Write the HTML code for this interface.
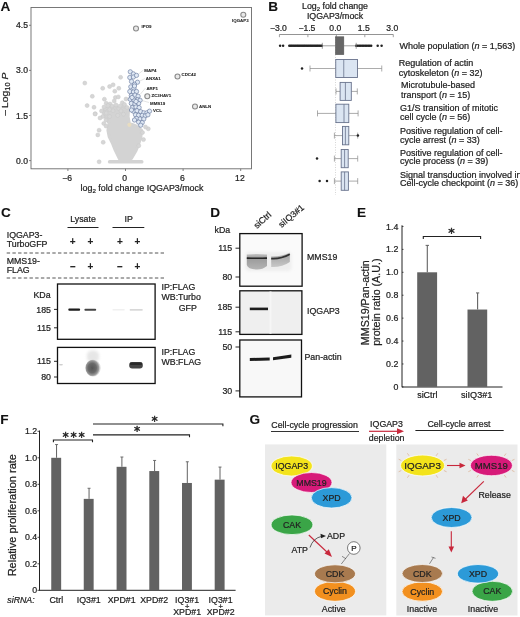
<!DOCTYPE html>
<html><head><meta charset="utf-8"><title>Figure</title>
<style>html,body{margin:0;padding:0;background:#fff;} svg{display:block;} text{font-family:"Liberation Sans", Arial, Helvetica, sans-serif;stroke:#222;stroke-width:0.22px;} text[font-weight=bold]{stroke-width:0.1px;}</style>
</head><body>
<svg width="520" height="617" viewBox="0 0 520 617">
<rect width="520" height="617" fill="#fff"/>
<text x="0.6" y="10.5" font-size="13.6" font-weight="bold" fill="#111" >A</text>
<polygon points="103,112 105.2,116.7 109.2,123.5 107.9,130.2 109.2,136.9 112.6,143.6 115.3,150.4 119.3,158.5 131.4,158.5 136.1,150.4 138.8,143.6 140.9,136.9 141.5,130.2 136,126 129.4,123.5 128.1,116.7 128.5,110 125,107 119,107.5 112,107 106,108.5" fill="#d3d3d3" stroke="#d3d3d3" stroke-width="3" stroke-linejoin="round"/>
<rect x="107.9" y="160.1" width="35.6" height="3.5" rx="1.7" fill="#d3d3d3"/>
<circle cx="84.8" cy="83.1" r="2.0" fill="#d6d6d6" stroke="#c9c9c9" stroke-width="0.5"/>
<circle cx="102.7" cy="88.3" r="2.0" fill="#d6d6d6" stroke="#c9c9c9" stroke-width="0.5"/>
<circle cx="109.6" cy="86.5" r="2.0" fill="#d6d6d6" stroke="#c9c9c9" stroke-width="0.5"/>
<circle cx="113.1" cy="84.8" r="2.0" fill="#d6d6d6" stroke="#c9c9c9" stroke-width="0.5"/>
<circle cx="120.6" cy="77.3" r="2.0" fill="#d6d6d6" stroke="#c9c9c9" stroke-width="0.5"/>
<circle cx="118.8" cy="88.3" r="2.0" fill="#d6d6d6" stroke="#c9c9c9" stroke-width="0.5"/>
<circle cx="114.8" cy="91.2" r="2.0" fill="#d6d6d6" stroke="#c9c9c9" stroke-width="0.5"/>
<circle cx="92.3" cy="96.3" r="2.0" fill="#d6d6d6" stroke="#c9c9c9" stroke-width="0.5"/>
<circle cx="104.4" cy="99.2" r="2.0" fill="#d6d6d6" stroke="#c9c9c9" stroke-width="0.5"/>
<circle cx="115.4" cy="97.5" r="2.0" fill="#d6d6d6" stroke="#c9c9c9" stroke-width="0.5"/>
<circle cx="118.3" cy="96.9" r="2.0" fill="#d6d6d6" stroke="#c9c9c9" stroke-width="0.5"/>
<circle cx="114.2" cy="101.0" r="2.0" fill="#d6d6d6" stroke="#c9c9c9" stroke-width="0.5"/>
<circle cx="122.3" cy="102.7" r="2.0" fill="#d6d6d6" stroke="#c9c9c9" stroke-width="0.5"/>
<circle cx="87.1" cy="105.6" r="2.0" fill="#d6d6d6" stroke="#c9c9c9" stroke-width="0.5"/>
<circle cx="94.0" cy="107.3" r="2.0" fill="#d6d6d6" stroke="#c9c9c9" stroke-width="0.5"/>
<circle cx="106.2" cy="103.3" r="2.0" fill="#d6d6d6" stroke="#c9c9c9" stroke-width="0.5"/>
<circle cx="105.0" cy="108.5" r="2.0" fill="#d6d6d6" stroke="#c9c9c9" stroke-width="0.5"/>
<circle cx="109.6" cy="109.6" r="2.0" fill="#d6d6d6" stroke="#c9c9c9" stroke-width="0.5"/>
<circle cx="95.2" cy="113.7" r="2.0" fill="#d6d6d6" stroke="#c9c9c9" stroke-width="0.5"/>
<circle cx="106.2" cy="113.1" r="2.0" fill="#d6d6d6" stroke="#c9c9c9" stroke-width="0.5"/>
<circle cx="113.1" cy="110.8" r="2.0" fill="#d6d6d6" stroke="#c9c9c9" stroke-width="0.5"/>
<circle cx="118.8" cy="108.5" r="2.0" fill="#d6d6d6" stroke="#c9c9c9" stroke-width="0.5"/>
<circle cx="102.7" cy="116.5" r="2.0" fill="#d6d6d6" stroke="#c9c9c9" stroke-width="0.5"/>
<circle cx="109.6" cy="116.5" r="2.0" fill="#d6d6d6" stroke="#c9c9c9" stroke-width="0.5"/>
<circle cx="117.7" cy="115.4" r="2.0" fill="#d6d6d6" stroke="#c9c9c9" stroke-width="0.5"/>
<circle cx="123.5" cy="114.2" r="2.0" fill="#d6d6d6" stroke="#c9c9c9" stroke-width="0.5"/>
<circle cx="95.1" cy="114.0" r="2.0" fill="#d6d6d6" stroke="#c9c9c9" stroke-width="0.5"/>
<circle cx="103.8" cy="123.5" r="2.0" fill="#d6d6d6" stroke="#c9c9c9" stroke-width="0.5"/>
<circle cx="99.1" cy="130.2" r="2.0" fill="#d6d6d6" stroke="#c9c9c9" stroke-width="0.5"/>
<circle cx="97.8" cy="134.9" r="2.0" fill="#d6d6d6" stroke="#c9c9c9" stroke-width="0.5"/>
<circle cx="103.2" cy="142.3" r="2.0" fill="#d6d6d6" stroke="#c9c9c9" stroke-width="0.5"/>
<circle cx="99.1" cy="161.8" r="2.0" fill="#d6d6d6" stroke="#c9c9c9" stroke-width="0.5"/>
<circle cx="148.3" cy="128.8" r="2.0" fill="#d6d6d6" stroke="#c9c9c9" stroke-width="0.5"/>
<circle cx="143.5" cy="139.6" r="2.0" fill="#d6d6d6" stroke="#c9c9c9" stroke-width="0.5"/>
<circle cx="138.8" cy="145.7" r="2.0" fill="#d6d6d6" stroke="#c9c9c9" stroke-width="0.5"/>
<circle cx="124.0" cy="106.0" r="2.0" fill="#d6d6d6" stroke="#c9c9c9" stroke-width="0.5"/>
<circle cx="110.0" cy="104.0" r="2.0" fill="#d6d6d6" stroke="#c9c9c9" stroke-width="0.5"/>
<circle cx="100.0" cy="118.0" r="2.0" fill="#d6d6d6" stroke="#c9c9c9" stroke-width="0.5"/>
<circle cx="106.0" cy="120.0" r="2.0" fill="#d6d6d6" stroke="#c9c9c9" stroke-width="0.5"/>
<circle cx="112.0" cy="106.0" r="2.0" fill="#d6d6d6" stroke="#c9c9c9" stroke-width="0.5"/>
<circle cx="121.0" cy="111.0" r="2.0" fill="#d6d6d6" stroke="#c9c9c9" stroke-width="0.5"/>
<circle cx="126.0" cy="99.0" r="2.0" fill="#d6d6d6" stroke="#c9c9c9" stroke-width="0.5"/>
<circle cx="145.5" cy="127.0" r="2.0" fill="#d6d6d6" stroke="#c9c9c9" stroke-width="0.5"/>
<circle cx="104.0" cy="107.0" r="2.0" fill="#d6d6d6" stroke="#c9c9c9" stroke-width="0.5"/>
<circle cx="108.0" cy="105.5" r="2.0" fill="#d6d6d6" stroke="#c9c9c9" stroke-width="0.5"/>
<circle cx="116.0" cy="105.0" r="2.0" fill="#d6d6d6" stroke="#c9c9c9" stroke-width="0.5"/>
<circle cx="120.0" cy="106.0" r="2.0" fill="#d6d6d6" stroke="#c9c9c9" stroke-width="0.5"/>
<circle cx="124.5" cy="104.5" r="2.0" fill="#d6d6d6" stroke="#c9c9c9" stroke-width="0.5"/>
<circle cx="127.0" cy="107.5" r="2.0" fill="#d6d6d6" stroke="#c9c9c9" stroke-width="0.5"/>
<circle cx="101.5" cy="111.0" r="2.0" fill="#d6d6d6" stroke="#c9c9c9" stroke-width="0.5"/>
<circle cx="106.0" cy="126.0" r="2.0" fill="#d6d6d6" stroke="#c9c9c9" stroke-width="0.5"/>
<circle cx="142.5" cy="132.5" r="2.0" fill="#d6d6d6" stroke="#c9c9c9" stroke-width="0.5"/>
<circle cx="129.4" cy="124.8" r="2.1" fill="#e8dcc0"/>
<circle cx="130.3" cy="71.8" r="2.15" fill="#dfe8f4" stroke="#5f7298" stroke-width="0.6"/>
<circle cx="133.4" cy="73.9" r="2.15" fill="#dfe8f4" stroke="#5f7298" stroke-width="0.6"/>
<circle cx="129.8" cy="77.5" r="2.15" fill="#dfe8f4" stroke="#5f7298" stroke-width="0.6"/>
<circle cx="133.4" cy="77.0" r="2.15" fill="#dfe8f4" stroke="#5f7298" stroke-width="0.6"/>
<circle cx="136.5" cy="75.4" r="2.15" fill="#dfe8f4" stroke="#5f7298" stroke-width="0.6"/>
<circle cx="137.5" cy="82.2" r="2.15" fill="#dfe8f4" stroke="#5f7298" stroke-width="0.6"/>
<circle cx="134.4" cy="84.2" r="2.15" fill="#dfe8f4" stroke="#5f7298" stroke-width="0.6"/>
<circle cx="130.8" cy="86.8" r="2.15" fill="#dfe8f4" stroke="#5f7298" stroke-width="0.6"/>
<circle cx="133.9" cy="88.4" r="2.15" fill="#dfe8f4" stroke="#5f7298" stroke-width="0.6"/>
<circle cx="129.8" cy="91.5" r="2.15" fill="#dfe8f4" stroke="#5f7298" stroke-width="0.6"/>
<circle cx="133.4" cy="92.0" r="2.15" fill="#dfe8f4" stroke="#5f7298" stroke-width="0.6"/>
<circle cx="136.5" cy="91.5" r="2.15" fill="#dfe8f4" stroke="#5f7298" stroke-width="0.6"/>
<circle cx="131.3" cy="95.6" r="2.15" fill="#dfe8f4" stroke="#5f7298" stroke-width="0.6"/>
<circle cx="135.0" cy="95.1" r="2.15" fill="#dfe8f4" stroke="#5f7298" stroke-width="0.6"/>
<circle cx="138.1" cy="96.2" r="2.15" fill="#dfe8f4" stroke="#5f7298" stroke-width="0.6"/>
<circle cx="130.3" cy="99.3" r="2.15" fill="#dfe8f4" stroke="#5f7298" stroke-width="0.6"/>
<circle cx="133.9" cy="99.8" r="2.15" fill="#dfe8f4" stroke="#5f7298" stroke-width="0.6"/>
<circle cx="137.5" cy="99.8" r="2.15" fill="#dfe8f4" stroke="#5f7298" stroke-width="0.6"/>
<circle cx="140.1" cy="100.3" r="2.15" fill="#dfe8f4" stroke="#5f7298" stroke-width="0.6"/>
<circle cx="131.3" cy="103.4" r="2.15" fill="#dfe8f4" stroke="#5f7298" stroke-width="0.6"/>
<circle cx="135.0" cy="103.9" r="2.15" fill="#dfe8f4" stroke="#5f7298" stroke-width="0.6"/>
<circle cx="138.6" cy="103.4" r="2.15" fill="#dfe8f4" stroke="#5f7298" stroke-width="0.6"/>
<circle cx="132.4" cy="107.6" r="2.15" fill="#dfe8f4" stroke="#5f7298" stroke-width="0.6"/>
<circle cx="136.0" cy="107.0" r="2.15" fill="#dfe8f4" stroke="#5f7298" stroke-width="0.6"/>
<circle cx="139.1" cy="107.6" r="2.15" fill="#dfe8f4" stroke="#5f7298" stroke-width="0.6"/>
<circle cx="133.4" cy="111.2" r="2.15" fill="#dfe8f4" stroke="#5f7298" stroke-width="0.6"/>
<circle cx="137.0" cy="110.7" r="2.15" fill="#dfe8f4" stroke="#5f7298" stroke-width="0.6"/>
<circle cx="140.7" cy="111.7" r="2.15" fill="#dfe8f4" stroke="#5f7298" stroke-width="0.6"/>
<circle cx="143.8" cy="112.8" r="2.15" fill="#dfe8f4" stroke="#5f7298" stroke-width="0.6"/>
<circle cx="146.9" cy="112.8" r="2.15" fill="#dfe8f4" stroke="#5f7298" stroke-width="0.6"/>
<circle cx="149.5" cy="111.2" r="2.15" fill="#dfe8f4" stroke="#5f7298" stroke-width="0.6"/>
<circle cx="135.5" cy="114.8" r="2.15" fill="#dfe8f4" stroke="#5f7298" stroke-width="0.6"/>
<circle cx="138.6" cy="115.3" r="2.15" fill="#dfe8f4" stroke="#5f7298" stroke-width="0.6"/>
<circle cx="142.2" cy="115.3" r="2.15" fill="#dfe8f4" stroke="#5f7298" stroke-width="0.6"/>
<circle cx="145.3" cy="115.9" r="2.15" fill="#dfe8f4" stroke="#5f7298" stroke-width="0.6"/>
<circle cx="147.9" cy="114.8" r="2.15" fill="#dfe8f4" stroke="#5f7298" stroke-width="0.6"/>
<circle cx="136.5" cy="118.5" r="2.15" fill="#dfe8f4" stroke="#5f7298" stroke-width="0.6"/>
<circle cx="140.1" cy="119.0" r="2.15" fill="#dfe8f4" stroke="#5f7298" stroke-width="0.6"/>
<circle cx="143.8" cy="119.0" r="2.15" fill="#dfe8f4" stroke="#5f7298" stroke-width="0.6"/>
<circle cx="138.6" cy="122.1" r="2.15" fill="#dfe8f4" stroke="#5f7298" stroke-width="0.6"/>
<circle cx="142.2" cy="122.6" r="2.15" fill="#dfe8f4" stroke="#5f7298" stroke-width="0.6"/>
<circle cx="140.7" cy="125.2" r="2.15" fill="#dfe8f4" stroke="#5f7298" stroke-width="0.6"/>
<circle cx="131.5" cy="81.5" r="2.15" fill="#dfe8f4" stroke="#5f7298" stroke-width="0.6"/>
<circle cx="132.0" cy="97.5" r="2.15" fill="#dfe8f4" stroke="#5f7298" stroke-width="0.6"/>
<circle cx="134.5" cy="86.0" r="2.15" fill="#dfe8f4" stroke="#5f7298" stroke-width="0.6"/>
<circle cx="136.0" cy="101.5" r="2.15" fill="#dfe8f4" stroke="#5f7298" stroke-width="0.6"/>
<circle cx="131.5" cy="110.0" r="2.15" fill="#dfe8f4" stroke="#5f7298" stroke-width="0.6"/>
<circle cx="134.5" cy="120.0" r="2.15" fill="#dfe8f4" stroke="#5f7298" stroke-width="0.6"/>
<circle cx="136" cy="28.5" r="2.5" fill="#e8e8e8" stroke="#8a8a8a" stroke-width="1.1"/>
<circle cx="243.3" cy="14.8" r="2.5" fill="#e8e8e8" stroke="#8a8a8a" stroke-width="1.1"/>
<circle cx="177.5" cy="76.5" r="2.5" fill="#e8e8e8" stroke="#8a8a8a" stroke-width="1.1"/>
<circle cx="195" cy="106.5" r="2.5" fill="#e8e8e8" stroke="#8a8a8a" stroke-width="1.1"/>
<circle cx="147.3" cy="96.2" r="2.5" fill="#e8e8e8" stroke="#8a8a8a" stroke-width="1.1"/>
<text x="141.5" y="28" font-size="4.4" font-weight="bold" fill="#2a2a2a" >IPO9</text>
<text x="232" y="22.2" font-size="4.4" font-weight="bold" fill="#2a2a2a" >IQGAP3</text>
<text x="181.5" y="76" font-size="4.4" font-weight="bold" fill="#2a2a2a" >CDC42</text>
<text x="199" y="107.5" font-size="4.4" font-weight="bold" fill="#2a2a2a" >ANLN</text>
<text x="144.3" y="71.6" font-size="4.4" font-weight="bold" fill="#2a2a2a" >MAP4</text>
<text x="145.8" y="80.1" font-size="4.4" font-weight="bold" fill="#2a2a2a" >ANXA1</text>
<text x="146.4" y="89.5" font-size="4.4" font-weight="bold" fill="#2a2a2a" >ARF1</text>
<text x="151.5" y="96.9" font-size="4.4" font-weight="bold" fill="#2a2a2a" >ZC3HAV1</text>
<text x="150" y="104.5" font-size="4.4" font-weight="bold" fill="#2a2a2a" >MMS19</text>
<text x="153.1" y="112.3" font-size="4.4" font-weight="bold" fill="#2a2a2a" >VCL</text>
<line x1="143.5" y1="70" x2="138.5" y2="74" stroke="#bbb" stroke-width="0.4" />
<line x1="145" y1="78.5" x2="139" y2="81.5" stroke="#bbb" stroke-width="0.4" />
<line x1="145.5" y1="88" x2="140.5" y2="94" stroke="#bbb" stroke-width="0.4" />
<line x1="149" y1="102.5" x2="142" y2="100.5" stroke="#bbb" stroke-width="0.4" />
<line x1="152.5" y1="110.5" x2="151" y2="111" stroke="#bbb" stroke-width="0.4" />
<rect x="31" y="7.5" width="220.5" height="161.3" fill="none" stroke="#6a6a6a" stroke-width="0.9"/>
<line x1="29" y1="25.284999999999997" x2="31" y2="25.284999999999997" stroke="#666" stroke-width="0.8" />
<text x="28" y="28.384999999999998" font-size="8.6" text-anchor="end" fill="#222" >4.5</text>
<line x1="29" y1="70.38999999999999" x2="31" y2="70.38999999999999" stroke="#666" stroke-width="0.8" />
<text x="28" y="73.48999999999998" font-size="8.6" text-anchor="end" fill="#222" >3.0</text>
<line x1="29" y1="115.49499999999999" x2="31" y2="115.49499999999999" stroke="#666" stroke-width="0.8" />
<text x="28" y="118.59499999999998" font-size="8.6" text-anchor="end" fill="#222" >1.5</text>
<line x1="29" y1="160.6" x2="31" y2="160.6" stroke="#666" stroke-width="0.8" />
<text x="28" y="163.7" font-size="8.6" text-anchor="end" fill="#222" >0.0</text>
<line x1="67.9" y1="168.8" x2="67.9" y2="171" stroke="#666" stroke-width="0.8" />
<text x="67.10000000000001" y="181" font-size="8.6" text-anchor="middle" fill="#222" >−6</text>
<line x1="125.5" y1="168.8" x2="125.5" y2="171" stroke="#666" stroke-width="0.8" />
<text x="124.7" y="181" font-size="8.6" text-anchor="middle" fill="#222" >0</text>
<line x1="183.1" y1="168.8" x2="183.1" y2="171" stroke="#666" stroke-width="0.8" />
<text x="182.29999999999998" y="181" font-size="8.6" text-anchor="middle" fill="#222" >6</text>
<line x1="240.7" y1="168.8" x2="240.7" y2="171" stroke="#666" stroke-width="0.8" />
<text x="239.89999999999998" y="181" font-size="8.6" text-anchor="middle" fill="#222" >12</text>
<text x="142" y="191.2" font-size="8.9" text-anchor="middle" fill="#222" >log<tspan font-size="6.2" dy="2">2</tspan><tspan dy="-2"> fold change IQGAP3/mock</tspan></text>
<text transform="translate(8.2,94.2) rotate(-90) scale(1.12,1)" font-size="9.2" text-anchor="middle" fill="#222">– Log<tspan font-size="6.6" dy="2">10</tspan><tspan dy="-2"> </tspan><tspan font-style="italic">P</tspan></text>
<text x="268.2" y="10.6" font-size="13.6" font-weight="bold" fill="#111" >B</text>
<text x="335" y="8.6" font-size="8.8" text-anchor="middle" fill="#222" >Log<tspan font-size="6" dy="2">2</tspan><tspan dy="-2"> fold change</tspan></text>
<text x="335" y="18.8" font-size="8.8" text-anchor="middle" fill="#222" >IQGAP3/mock</text>
<line x1="279.4" y1="34.5" x2="393.3" y2="34.5" stroke="#888" stroke-width="0.9" />
<line x1="279.41" y1="34.5" x2="279.41" y2="37.2" stroke="#888" stroke-width="0.8" />
<text x="278.41" y="31.2" font-size="8.6" text-anchor="middle" fill="#222" >−3.0</text>
<line x1="307.88" y1="34.5" x2="307.88" y2="37.2" stroke="#888" stroke-width="0.8" />
<text x="306.88" y="31.2" font-size="8.6" text-anchor="middle" fill="#222" >−1.5</text>
<line x1="336.35" y1="34.5" x2="336.35" y2="37.2" stroke="#888" stroke-width="0.8" />
<text x="335.35" y="31.2" font-size="8.6" text-anchor="middle" fill="#222" >0.0</text>
<line x1="364.82000000000005" y1="34.5" x2="364.82000000000005" y2="37.2" stroke="#888" stroke-width="0.8" />
<text x="363.82000000000005" y="31.2" font-size="8.6" text-anchor="middle" fill="#222" >1.5</text>
<line x1="393.29" y1="34.5" x2="393.29" y2="37.2" stroke="#888" stroke-width="0.8" />
<text x="392.29" y="31.2" font-size="8.6" text-anchor="middle" fill="#222" >3.0</text>
<line x1="335.5" y1="37" x2="335.5" y2="195" stroke="#bbb" stroke-width="0.6" stroke-dasharray="1,1.5"/>
<circle cx="280.1" cy="45.8" r="1.25" fill="#222"/>
<circle cx="283.1" cy="45.8" r="1.25" fill="#222"/>
<circle cx="289.3" cy="45.8" r="1.25" fill="#222"/>
<circle cx="290.6" cy="45.8" r="1.25" fill="#222"/>
<circle cx="291.9" cy="45.8" r="1.25" fill="#222"/>
<circle cx="293.2" cy="45.8" r="1.25" fill="#222"/>
<circle cx="294.5" cy="45.8" r="1.25" fill="#222"/>
<circle cx="295.8" cy="45.8" r="1.25" fill="#222"/>
<circle cx="297.1" cy="45.8" r="1.25" fill="#222"/>
<circle cx="298.4" cy="45.8" r="1.25" fill="#222"/>
<circle cx="299.7" cy="45.8" r="1.25" fill="#222"/>
<circle cx="301.0" cy="45.8" r="1.25" fill="#222"/>
<circle cx="302.3" cy="45.8" r="1.25" fill="#222"/>
<circle cx="303.6" cy="45.8" r="1.25" fill="#222"/>
<circle cx="304.9" cy="45.8" r="1.25" fill="#222"/>
<circle cx="306.2" cy="45.8" r="1.25" fill="#222"/>
<circle cx="307.5" cy="45.8" r="1.25" fill="#222"/>
<circle cx="308.8" cy="45.8" r="1.25" fill="#222"/>
<circle cx="310.1" cy="45.8" r="1.25" fill="#222"/>
<circle cx="311.4" cy="45.8" r="1.25" fill="#222"/>
<circle cx="312.7" cy="45.8" r="1.25" fill="#222"/>
<circle cx="314.0" cy="45.8" r="1.25" fill="#222"/>
<circle cx="315.3" cy="45.8" r="1.25" fill="#222"/>
<circle cx="316.6" cy="45.8" r="1.25" fill="#222"/>
<circle cx="317.9" cy="45.8" r="1.25" fill="#222"/>
<circle cx="319.2" cy="45.8" r="1.25" fill="#222"/>
<circle cx="320.5" cy="45.8" r="1.25" fill="#222"/>
<circle cx="321.8" cy="45.8" r="1.25" fill="#222"/>
<circle cx="356.2" cy="45.8" r="1.25" fill="#222"/>
<circle cx="357.7" cy="45.8" r="1.25" fill="#222"/>
<circle cx="359.2" cy="45.8" r="1.25" fill="#222"/>
<circle cx="360.7" cy="45.8" r="1.25" fill="#222"/>
<circle cx="362.2" cy="45.8" r="1.25" fill="#222"/>
<circle cx="363.7" cy="45.8" r="1.25" fill="#222"/>
<circle cx="365.2" cy="45.8" r="1.25" fill="#222"/>
<circle cx="366.7" cy="45.8" r="1.25" fill="#222"/>
<circle cx="368.2" cy="45.8" r="1.25" fill="#222"/>
<circle cx="369.7" cy="45.8" r="1.25" fill="#222"/>
<circle cx="371.2" cy="45.8" r="1.25" fill="#222"/>
<circle cx="377.7" cy="45.8" r="1.25" fill="#222"/>
<circle cx="381.6" cy="45.8" r="1.25" fill="#222"/>
<line x1="322.3" y1="45.8" x2="335.5" y2="45.8" stroke="#777" stroke-width="0.7" />
<line x1="322.3" y1="42.8" x2="322.3" y2="48.8" stroke="#777" stroke-width="0.7" />
<line x1="343.8" y1="45.8" x2="356.2" y2="45.8" stroke="#777" stroke-width="0.7" />
<line x1="356.2" y1="42.8" x2="356.2" y2="48.8" stroke="#777" stroke-width="0.7" />
<rect x="335.5" y="36.8" width="8.3" height="17.8" fill="#666" stroke="#555" stroke-width="0.6"/>
<line x1="310" y1="68.5" x2="335.75" y2="68.5" stroke="#888" stroke-width="0.7" />
<line x1="310" y1="65.5" x2="310" y2="71.5" stroke="#888" stroke-width="0.7" />
<line x1="357.5" y1="68.5" x2="381.75" y2="68.5" stroke="#888" stroke-width="0.7" />
<line x1="381.75" y1="65.5" x2="381.75" y2="71.5" stroke="#888" stroke-width="0.7" />
<rect x="335.75" y="59.5" width="21.75" height="18.00" fill="#dbe5f2" stroke="#68728c" stroke-width="0.9"/>
<line x1="343.75" y1="59.5" x2="343.75" y2="77.5" stroke="#68728c" stroke-width="0.8" />
<circle cx="302" cy="68.5" r="1.25" fill="#222"/>
<line x1="336" y1="91.4" x2="340.1" y2="91.4" stroke="#888" stroke-width="0.7" />
<line x1="336" y1="88.4" x2="336" y2="94.4" stroke="#888" stroke-width="0.7" />
<line x1="351.3" y1="91.4" x2="357.3" y2="91.4" stroke="#888" stroke-width="0.7" />
<line x1="357.3" y1="88.4" x2="357.3" y2="94.4" stroke="#888" stroke-width="0.7" />
<rect x="340.1" y="82.4" width="11.20" height="18.00" fill="#dbe5f2" stroke="#68728c" stroke-width="0.9"/>
<line x1="345.4" y1="82.4" x2="345.4" y2="100.4" stroke="#68728c" stroke-width="0.8" />
<line x1="317.5" y1="113.4" x2="335.9" y2="113.4" stroke="#888" stroke-width="0.7" />
<line x1="317.5" y1="110.4" x2="317.5" y2="116.4" stroke="#888" stroke-width="0.7" />
<line x1="348.8" y1="113.4" x2="358.1" y2="113.4" stroke="#888" stroke-width="0.7" />
<line x1="358.1" y1="110.4" x2="358.1" y2="116.4" stroke="#888" stroke-width="0.7" />
<rect x="335.9" y="104.2" width="12.90" height="18.40" fill="#dbe5f2" stroke="#68728c" stroke-width="0.9"/>
<line x1="344" y1="104.2" x2="344" y2="122.6" stroke="#68728c" stroke-width="0.8" />
<line x1="334.4" y1="135.60000000000002" x2="342.5" y2="135.60000000000002" stroke="#888" stroke-width="0.7" />
<line x1="334.4" y1="132.60000000000002" x2="334.4" y2="138.60000000000002" stroke="#888" stroke-width="0.7" />
<line x1="348.8" y1="135.60000000000002" x2="357.7" y2="135.60000000000002" stroke="#888" stroke-width="0.7" />
<line x1="357.7" y1="132.60000000000002" x2="357.7" y2="138.60000000000002" stroke="#888" stroke-width="0.7" />
<rect x="342.5" y="126.4" width="6.30" height="18.40" fill="#dbe5f2" stroke="#68728c" stroke-width="0.9"/>
<line x1="345.4" y1="126.4" x2="345.4" y2="144.8" stroke="#68728c" stroke-width="0.8" />
<circle cx="357.9" cy="135.60000000000002" r="1.25" fill="#222"/>
<line x1="334.4" y1="158.6" x2="341.2" y2="158.6" stroke="#888" stroke-width="0.7" />
<line x1="334.4" y1="155.6" x2="334.4" y2="161.6" stroke="#888" stroke-width="0.7" />
<line x1="348.2" y1="158.6" x2="357.7" y2="158.6" stroke="#888" stroke-width="0.7" />
<line x1="357.7" y1="155.6" x2="357.7" y2="161.6" stroke="#888" stroke-width="0.7" />
<rect x="341.2" y="149.5" width="7.00" height="18.20" fill="#dbe5f2" stroke="#68728c" stroke-width="0.9"/>
<line x1="344.6" y1="149.5" x2="344.6" y2="167.7" stroke="#68728c" stroke-width="0.8" />
<circle cx="317" cy="158.6" r="1.25" fill="#222"/>
<line x1="334.4" y1="181.10000000000002" x2="341.2" y2="181.10000000000002" stroke="#888" stroke-width="0.7" />
<line x1="334.4" y1="178.10000000000002" x2="334.4" y2="184.10000000000002" stroke="#888" stroke-width="0.7" />
<line x1="348.4" y1="181.10000000000002" x2="357.7" y2="181.10000000000002" stroke="#888" stroke-width="0.7" />
<line x1="357.7" y1="178.10000000000002" x2="357.7" y2="184.10000000000002" stroke="#888" stroke-width="0.7" />
<rect x="341.2" y="171.9" width="7.20" height="18.40" fill="#dbe5f2" stroke="#68728c" stroke-width="0.9"/>
<line x1="344.6" y1="171.9" x2="344.6" y2="190.3" stroke="#68728c" stroke-width="0.8" />
<circle cx="319.6" cy="181.10000000000002" r="1.25" fill="#222"/>
<circle cx="327" cy="181.10000000000002" r="1.25" fill="#222"/>
<text x="399.5" y="49.0" font-size="9" fill="#222" >Whole population (<tspan font-style="italic">n</tspan> = 1,563)</text>
<text x="398.8" y="66.25" font-size="9" fill="#222" >Regulation of actin</text>
<text x="398.8" y="75.6" font-size="9" fill="#222" > cytoskeleton (<tspan font-style="italic">n</tspan> = 32)</text>
<text x="401" y="88.0" font-size="9" fill="#222" >Microtubule-based</text>
<text x="401" y="97.5" font-size="9" fill="#222" >transport (<tspan font-style="italic">n</tspan> = 15)</text>
<text x="400" y="111.25" font-size="9" fill="#222" >G1/S transition of mitotic</text>
<text x="400" y="120.0" font-size="9" fill="#222" >cell cycle (<tspan font-style="italic">n</tspan> = 56)</text>
<text x="400" y="133.75" font-size="9" fill="#222" >Positive regulation of cell-</text>
<text x="400" y="142.5" font-size="9" fill="#222" >cycle arrest (<tspan font-style="italic">n</tspan> = 33)</text>
<text x="400" y="155.5" font-size="9" fill="#222" >Positive regulation of cell-</text>
<text x="400" y="164.25" font-size="9" fill="#222" >cycle process (<tspan font-style="italic">n</tspan> = 39)</text>
<text x="400" y="177.5" font-size="9" fill="#222" >Signal transduction involved in</text>
<text x="400" y="186.25" font-size="9" fill="#222" >Cell-cycle checkpoint (<tspan font-style="italic">n</tspan> = 36)</text>
<text x="1" y="216.8" font-size="13.6" font-weight="bold" fill="#111" >C</text>
<text x="83" y="221.7" font-size="8.8" text-anchor="middle" fill="#222" >Lysate</text>
<text x="128.7" y="221.7" font-size="8.8" text-anchor="middle" fill="#222" >IP</text>
<line x1="67.5" y1="227.5" x2="98.5" y2="227.5" stroke="#222" stroke-width="1" />
<line x1="112.5" y1="227.5" x2="144.3" y2="227.5" stroke="#222" stroke-width="1" />
<text x="6.7" y="238.2" font-size="8.8" fill="#222" >IQGAP3-</text>
<text x="6.7" y="247.2" font-size="8.8" fill="#222" >TurboGFP</text>
<text x="6.7" y="264.2" font-size="8.8" fill="#222" >MMS19-</text>
<text x="6.7" y="273.2" font-size="8.8" fill="#222" >FLAG</text>
<text x="72.7" y="244.6" font-size="10" text-anchor="middle" font-weight="bold" fill="#222" >+</text>
<text x="90.4" y="244.6" font-size="10" text-anchor="middle" font-weight="bold" fill="#222" >+</text>
<text x="119.8" y="244.6" font-size="10" text-anchor="middle" font-weight="bold" fill="#222" >+</text>
<text x="137.3" y="244.6" font-size="10" text-anchor="middle" font-weight="bold" fill="#222" >+</text>
<text x="72.7" y="269.6" font-size="10" text-anchor="middle" font-weight="bold" fill="#222" >–</text>
<text x="90.4" y="269.6" font-size="10" text-anchor="middle" font-weight="bold" fill="#222" >+</text>
<text x="119.8" y="269.6" font-size="10" text-anchor="middle" font-weight="bold" fill="#222" >–</text>
<text x="137.3" y="269.6" font-size="10" text-anchor="middle" font-weight="bold" fill="#222" >+</text>
<line x1="6.7" y1="253" x2="164" y2="253" stroke="#555" stroke-width="1" stroke-dasharray="3.4,2.3"/>
<line x1="6.7" y1="278" x2="164" y2="278" stroke="#555" stroke-width="1" stroke-dasharray="3.4,2.3"/>
<defs><filter id="bl" x="-50%" y="-100%" width="200%" height="300%"><feGaussianBlur stdDeviation="0.6"/></filter><filter id="bl2" x="-50%" y="-50%" width="200%" height="200%"><feGaussianBlur stdDeviation="1.4"/></filter></defs>
<rect x="57.5" y="284" width="97.6" height="55.3" fill="#fff" stroke="#111" stroke-width="1.3"/>
<rect x="57.5" y="347.4" width="97.6" height="36.1" fill="#fff" stroke="#111" stroke-width="1.3"/>
<rect x="68.3" y="308.6" width="11.8" height="2.2" rx="1" fill="#1a1a1a" filter="url(#bl)"/>
<rect x="84.4" y="308.8" width="11.8" height="1.9" rx="1" fill="#444" filter="url(#bl)"/>
<rect x="112.6" y="309" width="12" height="1.5" fill="#f0f0f0" filter="url(#bl)"/>
<rect x="129.8" y="309" width="12.8" height="1.7" fill="#d8d8d8" filter="url(#bl)"/>
<defs><radialGradient id="blob" cx="0.45" cy="0.5" r="0.5"><stop offset="0" stop-color="#555"/><stop offset="0.55" stop-color="#6a6a6a"/><stop offset="0.85" stop-color="#9a9a9a"/><stop offset="1" stop-color="#d8d8d8"/></radialGradient></defs>
<rect x="87" y="350.5" width="12" height="12" rx="5" fill="#e6e6e6" filter="url(#bl2)"/>
<ellipse cx="93" cy="368" rx="7.6" ry="8.6" fill="url(#blob)" filter="url(#bl)"/>
<rect x="129.2" y="362" width="13.6" height="6.5" rx="3" fill="#444" filter="url(#bl)"/>
<rect x="129.8" y="362.5" width="12.4" height="2.6" rx="1.2" fill="#2a2a2a" filter="url(#bl)"/>
<ellipse cx="61" cy="364.7" rx="2" ry="0.8" fill="#ccc"/>
<text x="33.5" y="298.4" font-size="8.8" fill="#222" >KDa</text>
<line x1="54" y1="309.4" x2="57.5" y2="309.4" stroke="#111" stroke-width="0.9" />
<text x="51" y="312.5" font-size="8.8" text-anchor="end" fill="#222" >185</text>
<line x1="54" y1="327.8" x2="57.5" y2="327.8" stroke="#111" stroke-width="0.9" />
<text x="51" y="330.90000000000003" font-size="8.8" text-anchor="end" fill="#222" >115</text>
<line x1="54" y1="361.3" x2="57.5" y2="361.3" stroke="#111" stroke-width="0.9" />
<text x="51" y="364.40000000000003" font-size="8.8" text-anchor="end" fill="#222" >115</text>
<line x1="54" y1="377" x2="57.5" y2="377" stroke="#111" stroke-width="0.9" />
<text x="51" y="380.1" font-size="8.8" text-anchor="end" fill="#222" >80</text>
<text x="161.5" y="289.9" font-size="8.8" fill="#222" >IP:FLAG</text>
<text x="161.5" y="300.4" font-size="8.8" fill="#222" >WB:Turbo</text>
<text x="178.7" y="311.1" font-size="8.8" fill="#222" >GFP</text>
<text x="161.5" y="354.6" font-size="8.8" fill="#222" >IP:FLAG</text>
<text x="161.5" y="365" font-size="8.8" fill="#222" >WB:FLAG</text>
<text x="210.3" y="216.6" font-size="13.6" font-weight="bold" fill="#111" >D</text>
<text transform="translate(257,229) rotate(-42)" font-size="8.8" fill="#222">siCtrl</text>
<text transform="translate(281.5,228) rotate(-40)" font-size="8.8" fill="#222">siIQ3#1</text>
<text x="214.5" y="232.8" font-size="8.8" fill="#222" >kDa</text>
<rect x="239.8" y="233.6" width="62.3" height="52.6" fill="#fafafa" stroke="#111" stroke-width="1.3"/>
<rect x="239.8" y="290.8" width="62.1" height="43.6" fill="#efefef" stroke="#111" stroke-width="1.3"/>
<rect x="269.5" y="291.5" width="2" height="42.2" fill="#f6f6f6"/>
<rect x="239.8" y="340" width="61.7" height="56.9" fill="#f8f8f8" stroke="#111" stroke-width="1.3"/>
<line x1="235.5" y1="248.2" x2="239.8" y2="248.2" stroke="#111" stroke-width="0.9" />
<text x="232.2" y="251.29999999999998" font-size="8.8" text-anchor="end" fill="#222" >115</text>
<line x1="235.5" y1="277" x2="239.8" y2="277" stroke="#111" stroke-width="0.9" />
<text x="232.2" y="280.1" font-size="8.8" text-anchor="end" fill="#222" >80</text>
<line x1="235.5" y1="307.2" x2="239.8" y2="307.2" stroke="#111" stroke-width="0.9" />
<text x="232.2" y="310.3" font-size="8.8" text-anchor="end" fill="#222" >185</text>
<line x1="235.5" y1="331.8" x2="239.8" y2="331.8" stroke="#111" stroke-width="0.9" />
<text x="232.2" y="334.90000000000003" font-size="8.8" text-anchor="end" fill="#222" >115</text>
<line x1="235.5" y1="347" x2="239.8" y2="347" stroke="#111" stroke-width="0.9" />
<text x="232.2" y="350.1" font-size="8.8" text-anchor="end" fill="#222" >50</text>
<line x1="235.5" y1="390.9" x2="239.8" y2="390.9" stroke="#111" stroke-width="0.9" />
<text x="232.2" y="394.0" font-size="8.8" text-anchor="end" fill="#222" >30</text>
<defs><linearGradient id="mg1" x1="0" y1="0" x2="0" y2="1"><stop offset="0" stop-color="#c4c4c4"/><stop offset="0.25" stop-color="#9a9a9a"/><stop offset="1" stop-color="#b4b4b4"/></linearGradient><linearGradient id="mg2" x1="0" y1="0" x2="0" y2="1"><stop offset="0" stop-color="#cccccc"/><stop offset="0.25" stop-color="#a8a8a8"/><stop offset="1" stop-color="#c8c8c8"/></linearGradient><filter id="bl3" x="-50%" y="-50%" width="200%" height="200%"><feGaussianBlur stdDeviation="0.9"/></filter></defs>
<rect x="245.5" y="252" width="46" height="19" rx="4" fill="#eeeeee" filter="url(#bl2)"/>
<path d="M246.8,254.5 Q257,253.5 267,254.5 L267,266 Q262,270 256,269.5 Q248,269 246.8,265 Z" fill="url(#mg1)" filter="url(#bl)"/>
<path d="M246.8,258.2 Q257,258.8 267,258.2" fill="none" stroke="#262626" stroke-width="1.9" filter="url(#bl)"/>
<path d="M271.2,256.5 Q281,257 289.8,252.5 L289.8,262 Q282,267.5 271.2,267 Z" fill="url(#mg2)" filter="url(#bl)"/>
<path d="M271.2,258.6 Q281,259.2 289.8,254.3" fill="none" stroke="#303030" stroke-width="1.7" filter="url(#bl)"/>
<rect x="249.8" y="307.6" width="18.2" height="2.6" fill="#1e1e1e" filter="url(#bl)"/>
<path d="M249.8,358 L269.7,357.6 L269.7,360.6 L249.8,361 Z" fill="#1e1e1e" filter="url(#bl)"/>
<path d="M273,357.2 L291.3,354.6 L291.3,357.8 L273,360.2 Z" fill="#1e1e1e" filter="url(#bl)"/>
<text x="307" y="259.6" font-size="8.8" fill="#222" >MMS19</text>
<text x="307" y="314.4" font-size="8.8" fill="#222" >IQGAP3</text>
<text x="304.5" y="360.2" font-size="8.8" fill="#222" >Pan-actin</text>
<text x="357.1" y="216.6" font-size="13.6" font-weight="bold" fill="#111" >E</text>
<line x1="402" y1="225.3" x2="402" y2="387.3" stroke="#222" stroke-width="1" />
<line x1="402" y1="387" x2="502.5" y2="387" stroke="#222" stroke-width="1" />
<line x1="402" y1="226.46" x2="403.5" y2="226.46" stroke="#222" stroke-width="0.8" />
<text x="398.3" y="229.56" font-size="8.8" text-anchor="end" fill="#222" >1.4</text>
<line x1="402" y1="249.38" x2="403.5" y2="249.38" stroke="#222" stroke-width="0.8" />
<text x="398.3" y="252.48" font-size="8.8" text-anchor="end" fill="#222" >1.2</text>
<line x1="402" y1="272.29999999999995" x2="403.5" y2="272.29999999999995" stroke="#222" stroke-width="0.8" />
<text x="398.3" y="275.4" font-size="8.8" text-anchor="end" fill="#222" >1.0</text>
<line x1="402" y1="295.21999999999997" x2="403.5" y2="295.21999999999997" stroke="#222" stroke-width="0.8" />
<text x="398.3" y="298.32" font-size="8.8" text-anchor="end" fill="#222" >0.8</text>
<line x1="402" y1="318.14" x2="403.5" y2="318.14" stroke="#222" stroke-width="0.8" />
<text x="398.3" y="321.24" font-size="8.8" text-anchor="end" fill="#222" >0.6</text>
<line x1="402" y1="341.05999999999995" x2="403.5" y2="341.05999999999995" stroke="#222" stroke-width="0.8" />
<text x="398.3" y="344.15999999999997" font-size="8.8" text-anchor="end" fill="#222" >0.4</text>
<line x1="402" y1="363.97999999999996" x2="403.5" y2="363.97999999999996" stroke="#222" stroke-width="0.8" />
<text x="398.3" y="367.08" font-size="8.8" text-anchor="end" fill="#222" >0.2</text>
<line x1="402" y1="386.9" x2="403.5" y2="386.9" stroke="#222" stroke-width="0.8" />
<text x="398.3" y="390.0" font-size="8.8" text-anchor="end" fill="#222" >0</text>
<rect x="417.2" y="272.30" width="19.9" height="114.60" fill="#626262"/>
<rect x="467.5" y="309.54" width="19.7" height="77.36" fill="#626262"/>
<line x1="427.3" y1="272.29999999999995" x2="427.3" y2="245.36899999999997" stroke="#626262" stroke-width="1.1" />
<line x1="425.6" y1="245.36899999999997" x2="429" y2="245.36899999999997" stroke="#626262" stroke-width="1" />
<line x1="477.6" y1="309.54499999999996" x2="477.6" y2="292.928" stroke="#626262" stroke-width="1.1" />
<line x1="476" y1="292.928" x2="479.2" y2="292.928" stroke="#626262" stroke-width="1" />
<path d="M423.3,239 L423.3,236.5 L480.6,236.5 L480.6,239" fill="none" stroke="#222" stroke-width="1.1"/>
<text x="451.5" y="237.4" font-size="13" text-anchor="middle" fill="#222" font-family="DejaVu Sans" style="font-family:DejaVu Sans;stroke-width:0.45px">*</text>
<text x="427.3" y="397.9" font-size="8.9" text-anchor="middle" fill="#222" >siCtrl</text>
<text x="476.7" y="397.9" font-size="9.1" text-anchor="middle" fill="#222" >siIQ3#1</text>
<text transform="translate(369.4,302.7) rotate(-90)" font-size="10.7" text-anchor="middle" fill="#222">MMS19/Pan-actin</text>
<text transform="translate(379.6,302.2) rotate(-90)" font-size="10.7" text-anchor="middle" fill="#222">protein ratio (A.U.)</text>
<text x="0.3" y="424.4" font-size="13.6" font-weight="bold" fill="#111" >F</text>
<line x1="39.5" y1="430.5" x2="39.5" y2="590.8" stroke="#222" stroke-width="1" />
<line x1="39.5" y1="590.3" x2="235.6" y2="590.3" stroke="#222" stroke-width="1" />
<line x1="37.5" y1="431.29999999999995" x2="39.5" y2="431.29999999999995" stroke="#222" stroke-width="0.8" />
<text x="37.2" y="434.4" font-size="8.8" text-anchor="end" fill="#222" >1.2</text>
<line x1="37.5" y1="457.79999999999995" x2="39.5" y2="457.79999999999995" stroke="#222" stroke-width="0.8" />
<text x="37.2" y="460.9" font-size="8.8" text-anchor="end" fill="#222" >1.0</text>
<line x1="37.5" y1="484.29999999999995" x2="39.5" y2="484.29999999999995" stroke="#222" stroke-width="0.8" />
<text x="37.2" y="487.4" font-size="8.8" text-anchor="end" fill="#222" >0.8</text>
<line x1="37.5" y1="510.79999999999995" x2="39.5" y2="510.79999999999995" stroke="#222" stroke-width="0.8" />
<text x="37.2" y="513.9" font-size="8.8" text-anchor="end" fill="#222" >0.6</text>
<line x1="37.5" y1="537.3" x2="39.5" y2="537.3" stroke="#222" stroke-width="0.8" />
<text x="37.2" y="540.4" font-size="8.8" text-anchor="end" fill="#222" >0.4</text>
<line x1="37.5" y1="563.8" x2="39.5" y2="563.8" stroke="#222" stroke-width="0.8" />
<text x="37.2" y="566.9" font-size="8.8" text-anchor="end" fill="#222" >0.2</text>
<line x1="37.5" y1="590.3" x2="39.5" y2="590.3" stroke="#222" stroke-width="0.8" />
<text x="37.2" y="593.4" font-size="8.8" text-anchor="end" fill="#222" >0</text>
<rect x="51.25" y="457.80" width="9.9" height="132.50" fill="#626262"/>
<line x1="56.55" y1="457.79999999999995" x2="56.55" y2="444.54999999999995" stroke="#626262" stroke-width="1" />
<line x1="55.05" y1="444.54999999999995" x2="58.05" y2="444.54999999999995" stroke="#626262" stroke-width="0.9" />
<rect x="83.75" y="498.87" width="9.9" height="91.42" fill="#626262"/>
<line x1="89.05" y1="498.87499999999994" x2="89.05" y2="488.275" stroke="#626262" stroke-width="1" />
<line x1="87.55" y1="488.275" x2="90.55" y2="488.275" stroke="#626262" stroke-width="0.9" />
<rect x="116.6" y="466.81" width="9.9" height="123.49" fill="#626262"/>
<line x1="121.89999999999999" y1="466.80999999999995" x2="121.89999999999999" y2="457.005" stroke="#626262" stroke-width="1" />
<line x1="120.39999999999999" y1="457.005" x2="123.39999999999999" y2="457.005" stroke="#626262" stroke-width="0.9" />
<rect x="149.3" y="471.05" width="9.9" height="119.25" fill="#626262"/>
<line x1="154.60000000000002" y1="471.04999999999995" x2="154.60000000000002" y2="460.44999999999993" stroke="#626262" stroke-width="1" />
<line x1="153.10000000000002" y1="460.44999999999993" x2="156.10000000000002" y2="460.44999999999993" stroke="#626262" stroke-width="0.9" />
<rect x="182" y="482.97" width="9.9" height="107.33" fill="#626262"/>
<line x1="187.3" y1="482.97499999999997" x2="187.3" y2="461.775" stroke="#626262" stroke-width="1" />
<line x1="185.8" y1="461.775" x2="188.8" y2="461.775" stroke="#626262" stroke-width="0.9" />
<rect x="214.7" y="479.66" width="9.9" height="110.64" fill="#626262"/>
<line x1="220.0" y1="479.66249999999997" x2="220.0" y2="467.07499999999993" stroke="#626262" stroke-width="1" />
<line x1="218.5" y1="467.07499999999993" x2="221.5" y2="467.07499999999993" stroke="#626262" stroke-width="0.9" />
<path d="M53.4,442.3 L53.4,440 L92.5,440 L92.5,442.3" fill="none" stroke="#222" stroke-width="1.1"/>
<text x="65.6" y="441.1" font-size="12.5" text-anchor="middle" fill="#222" style="font-family:DejaVu Sans;stroke-width:0.45px">*</text>
<text x="73.6" y="441.1" font-size="12.5" text-anchor="middle" fill="#222" style="font-family:DejaVu Sans;stroke-width:0.45px">*</text>
<text x="81.5" y="441.1" font-size="12.5" text-anchor="middle" fill="#222" style="font-family:DejaVu Sans;stroke-width:0.45px">*</text>
<path d="M93,424 L222.9,424 L222.9,426.3" fill="none" stroke="#222" stroke-width="1.1"/>
<path d="M93,434.9 L189.5,434.9 L189.5,437.2" fill="none" stroke="#222" stroke-width="1.1"/>
<text x="154.5" y="424.7" font-size="12.5" text-anchor="middle" fill="#222" style="font-family:DejaVu Sans;stroke-width:0.45px">*</text>
<text x="137.1" y="435.1" font-size="12.5" text-anchor="middle" fill="#222" style="font-family:DejaVu Sans;stroke-width:0.45px">*</text>
<text transform="translate(15.6,515.2) rotate(-90)" font-size="11" text-anchor="middle" fill="#222">Relative proliferation rate</text>
<text x="7.3" y="602.5" font-size="8.8" font-style="italic" fill="#222" >siRNA:</text>
<text x="56.25" y="602.5" font-size="8.8" text-anchor="middle" fill="#222" >Ctrl</text>
<text x="88.75" y="602.5" font-size="8.8" text-anchor="middle" fill="#222" >IQ3#1</text>
<text x="121.6" y="602.5" font-size="8.8" text-anchor="middle" fill="#222" >XPD#1</text>
<text x="154.2" y="602.5" font-size="8.8" text-anchor="middle" fill="#222" >XPD#2</text>
<text x="187.1" y="602.5" font-size="8.8" text-anchor="middle" fill="#222" >IQ3#1</text>
<text x="187.1" y="609.3" font-size="7.5" text-anchor="middle" fill="#222" >+</text>
<text x="187.1" y="615.4" font-size="8.8" text-anchor="middle" fill="#222" >XPD#1</text>
<text x="220.6" y="602.5" font-size="8.8" text-anchor="middle" fill="#222" >IQ3#1</text>
<text x="220.6" y="609.3" font-size="7.5" text-anchor="middle" fill="#222" >+</text>
<text x="220.6" y="615.4" font-size="8.8" text-anchor="middle" fill="#222" >XPD#2</text>
<text x="249.4" y="424" font-size="13.6" font-weight="bold" fill="#111" >G</text>
<text x="314.6" y="428.3" font-size="8.8" text-anchor="middle" fill="#222" >Cell-cycle progression</text>
<line x1="271" y1="431.5" x2="359" y2="431.5" stroke="#333" stroke-width="1" />
<text x="386.5" y="427.2" font-size="8.8" text-anchor="middle" fill="#222" >IQGAP3</text>
<text x="386.6" y="441.2" font-size="8.8" text-anchor="middle" fill="#222" >depletion</text>
<line x1="369" y1="431.3" x2="399" y2="431.3" stroke="#c8283c" stroke-width="1.2"/><path d="M404,431.3 L397,428.3 L397,434.3 Z" fill="#c8283c"/>
<text x="459" y="427.2" font-size="8.8" text-anchor="middle" fill="#222" >Cell-cycle arrest</text>
<line x1="415.4" y1="430.5" x2="503.7" y2="430.5" stroke="#222" stroke-width="1" />
<rect x="265" y="444.4" width="121.3" height="171" fill="#ebebeb"/>
<rect x="396.3" y="444.5" width="121.2" height="171" fill="#ebebeb"/>
<ellipse cx="291.7" cy="466" rx="20.7" ry="10" fill="#f3e31b" stroke="#fff" stroke-width="0.7"/>
<text x="291.7" y="469.124" font-size="8.8" text-anchor="middle" fill="#222" >IQGAP3</text>
<ellipse cx="311.5" cy="482.5" rx="20.5" ry="10" fill="#d71a79" stroke="#fff" stroke-width="0.7"/>
<text x="311.5" y="485.624" font-size="8.8" text-anchor="middle" fill="#222" >MMS19</text>
<ellipse cx="331.6" cy="497.8" rx="20.4" ry="10.2" fill="#2c9ad8" stroke="#fff" stroke-width="0.7"/>
<text x="331.6" y="500.92400000000004" font-size="8.8" text-anchor="middle" fill="#222" >XPD</text>
<ellipse cx="292" cy="524.8" rx="20.9" ry="9.8" fill="#3aa547" stroke="#fff" stroke-width="0.7"/>
<text x="292" y="527.924" font-size="8.8" text-anchor="middle" fill="#222" >CAK</text>
<ellipse cx="335" cy="591.3" rx="20.5" ry="10" fill="#f2901f" stroke="#fff" stroke-width="0.7"/>
<text x="335" y="594.424" font-size="8.8" text-anchor="middle" fill="#222" >Cyclin</text>
<ellipse cx="335" cy="573.8" rx="20.5" ry="9" fill="#a87a4f" stroke="#fff" stroke-width="0.7"/>
<text x="335" y="576.924" font-size="8.8" text-anchor="middle" fill="#222" >CDK</text>
<line x1="308.8" y1="535" x2="328.5" y2="553.5" stroke="#c8283c" stroke-width="1.1"/><path d="M332,557 L324.5,553.5 L328.8,549.3 Z" fill="#c8283c"/>
<path d="M310,547.5 Q313,538 322,536.3" fill="none" stroke="#222" stroke-width="0.7"/><path d="M326,536 L320.5,533.8 L321,538.3 Z" fill="#222"/>
<text x="327" y="538.7" font-size="8.8" fill="#222" >ADP</text>
<text x="291.5" y="552.6" font-size="8.8" fill="#222" >ATP</text>
<circle cx="353.8" cy="548" r="6.3" fill="#fff" stroke="#444" stroke-width="0.7"/>
<text x="353.8" y="550.9" font-size="8" text-anchor="middle" fill="#222" >P</text>
<line x1="349.5" y1="553.5" x2="341.3" y2="564" stroke="#444" stroke-width="0.6" />
<line x1="342" y1="556.3" x2="346" y2="558.8" stroke="#444" stroke-width="0.6" />
<text x="333.75" y="611.8" font-size="8.8" text-anchor="middle" fill="#222" >Active</text>
<ellipse cx="422.6" cy="465.5" rx="22" ry="10.4" fill="#f3e31b" stroke="#fff" stroke-width="0.7"/>
<text x="422.6" y="468.979" font-size="9.8" text-anchor="middle" fill="#222" >IQGAP3</text>
<ellipse cx="491.4" cy="465.5" rx="21" ry="10.2" fill="#d71a79" stroke="#fff" stroke-width="0.7"/>
<text x="491.4" y="468.908" font-size="9.6" text-anchor="middle" fill="#222" >MMS19</text>
<line x1="401.3" y1="460.5" x2="398.6" y2="459.2" stroke="#d9a27e" stroke-width="0.6" />
<line x1="409.1" y1="455.8" x2="407.4" y2="453.3" stroke="#d9a27e" stroke-width="0.6" />
<line x1="436.1" y1="455.8" x2="437.8" y2="453.3" stroke="#d9a27e" stroke-width="0.6" />
<line x1="443.9" y1="460.5" x2="446.6" y2="459.2" stroke="#d9a27e" stroke-width="0.6" />
<line x1="443.9" y1="470.5" x2="446.6" y2="471.8" stroke="#d9a27e" stroke-width="0.6" />
<line x1="436.1" y1="475.2" x2="437.8" y2="477.7" stroke="#d9a27e" stroke-width="0.6" />
<line x1="409.1" y1="475.2" x2="407.4" y2="477.7" stroke="#d9a27e" stroke-width="0.6" />
<line x1="401.3" y1="470.5" x2="398.6" y2="471.8" stroke="#d9a27e" stroke-width="0.6" />
<line x1="471.0" y1="460.6" x2="468.3" y2="459.3" stroke="#d9a27e" stroke-width="0.6" />
<line x1="478.5" y1="455.9" x2="476.8" y2="453.5" stroke="#d9a27e" stroke-width="0.6" />
<line x1="504.3" y1="455.9" x2="506.0" y2="453.5" stroke="#d9a27e" stroke-width="0.6" />
<line x1="511.8" y1="460.6" x2="514.5" y2="459.3" stroke="#d9a27e" stroke-width="0.6" />
<line x1="511.8" y1="470.4" x2="514.5" y2="471.7" stroke="#d9a27e" stroke-width="0.6" />
<line x1="504.3" y1="475.1" x2="506.0" y2="477.5" stroke="#d9a27e" stroke-width="0.6" />
<line x1="478.5" y1="475.1" x2="476.8" y2="477.5" stroke="#d9a27e" stroke-width="0.6" />
<line x1="471.0" y1="470.4" x2="468.3" y2="471.7" stroke="#d9a27e" stroke-width="0.6" />
<line x1="447" y1="465.5" x2="461" y2="465.5" stroke="#c8283c" stroke-width="1.1"/><path d="M465.5,465.5 L459.5,462.8 L459.5,468.2 Z" fill="#c8283c"/>
<line x1="483.8" y1="481.3" x2="464.5" y2="500" stroke="#c8283c" stroke-width="1.1"/><path d="M461.2,503.2 L463,495.8 L467.8,500.5 Z" fill="#c8283c"/>
<text x="478.5" y="497.5" font-size="8.8" fill="#222" >Release</text>
<ellipse cx="451.6" cy="517.5" rx="20.4" ry="10" fill="#2c9ad8" stroke="#fff" stroke-width="0.7"/>
<text x="451.6" y="520.624" font-size="8.8" text-anchor="middle" fill="#222" >XPD</text>
<line x1="451.3" y1="531.3" x2="451.3" y2="548" stroke="#c8283c" stroke-width="1.1"/><path d="M451.3,552.5 L448.5,546.5 L454.1,546.5 Z" fill="#c8283c"/>
<ellipse cx="422.3" cy="591.6" rx="20.3" ry="9.6" fill="#f2901f" stroke="#fff" stroke-width="0.7"/>
<text x="422.3" y="594.724" font-size="8.8" text-anchor="middle" fill="#222" >Cyclin</text>
<ellipse cx="422.3" cy="573.5" rx="20.3" ry="9" fill="#a87a4f" stroke="#fff" stroke-width="0.7"/>
<text x="422.3" y="576.624" font-size="8.8" text-anchor="middle" fill="#222" >CDK</text>
<line x1="429.5" y1="563.8" x2="433.5" y2="557.5" stroke="#444" stroke-width="0.6" />
<line x1="431.5" y1="557" x2="435.5" y2="558.3" stroke="#444" stroke-width="0.6" />
<ellipse cx="492.3" cy="591.3" rx="20.3" ry="10" fill="#3aa547" stroke="#fff" stroke-width="0.7"/>
<text x="492.3" y="594.424" font-size="8.8" text-anchor="middle" fill="#222" >CAK</text>
<ellipse cx="478" cy="573.8" rx="20.6" ry="9.3" fill="#2c9ad8" stroke="#fff" stroke-width="0.7"/>
<text x="478" y="576.924" font-size="8.8" text-anchor="middle" fill="#222" >XPD</text>
<text x="422" y="611.8" font-size="8.8" text-anchor="middle" fill="#222" >Inactive</text>
<text x="483" y="611.8" font-size="8.8" text-anchor="middle" fill="#222" >Inactive</text>
</svg>
</body></html>
